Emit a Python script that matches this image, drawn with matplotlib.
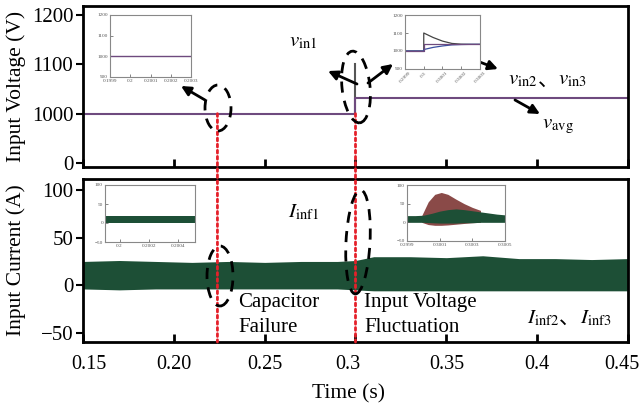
import numpy as np
import matplotlib.pyplot as plt
from matplotlib.patches import Ellipse, ConnectionPatch
from matplotlib.transforms import IdentityTransform, ScaledTranslation

plt.rcParams['font.family'] = ['Liberation Serif', 'Noto Sans CJK SC']
plt.rcParams['mathtext.fontset'] = 'stix'

# main voltage traces
t_volt = [0.15, 0.30, 0.30, 0.45]
v_avg = [1000, 1000, 1032, 1032]
t_spike = [0.30, 0.30]
v_spike = [1000, 1100]

# main current band (upper / lower envelope)
t_cur = [0.15, 0.17, 0.19, 0.21, 0.23, 0.25, 0.27, 0.29, 0.30,
         0.31, 0.33, 0.35, 0.37, 0.39, 0.41, 0.43, 0.45]
i_upper = [25, 26, 25, 24, 25, 24, 25, 25, 26, 30, 30, 29, 31, 28, 28, 27, 28]
i_lower = [-4, -5, -4, -4, -4, -4, -4, -4, -5, -6, -6, -6, -6, -6, -6, -6, -6]

t_fail = 0.224
t_fluct = 0.30

xticks = [0.15, 0.20, 0.25, 0.30, 0.35, 0.40, 0.45]
xticklabels = ['0.15', '0.20', '0.25', '0.3', '0.35', '0.4', '0.45']
xlabel_shift = [6, 0, 0, -8, 0, 0, -6]   # px, labels in the original sit off their ticks
v_ticks = [0, 1000, 1100, 1200]
i_ticks = [-50, 0, 50, 100]

# inset: voltage around capacitor failure
t_zv1 = [0.1999, 0.2003]
v_zv1 = [1000, 1000]
zv1_ticks = [0.1999, 0.2, 0.2001, 0.2002, 0.2003]
zv1_labels = ['0.1999', '0.2', '0.2001', '0.2002', '0.2003']

# inset: voltage around fluctuation
t_zv2 = [0.2999, 0.3, 0.3, 0.30005, 0.3001, 0.30015, 0.3002, 0.30025, 0.3003]
vin1_z = [1000, 1000, 1100, 1075, 1055, 1042, 1038, 1037, 1037]
vin23_z = [1000, 1000, 1008, 1020, 1028, 1034, 1036, 1037, 1037]
vavg_z = [1000, 1000, 1040, 1040, 1040, 1040, 1040, 1040, 1040]
zv2_ticks = [0.2999, 0.3, 0.3001, 0.3002, 0.3003]
zv2_labels = ['0.2999', '0.3', '0.3001', '0.3002', '0.3003']

# inset: current around capacitor failure
t_zi1 = [0.1999, 0.20052]
zi1_upper = [19, 19]
zi1_lower = [-1, -1]
zi1_ticks = [0.2, 0.2002, 0.2004]
zi1_labels = ['0.2', '0.2002', '0.2004']

# inset: current around fluctuation
t_zi2 = [0.2999, 0.29995, 0.3, 0.30005, 0.3001, 0.30015, 0.3002,
         0.30025, 0.3003, 0.30035, 0.3004, 0.30045, 0.3005]
zi2_upper = [18, 18, 19, 24, 30, 34, 36, 34, 31, 28, 25, 22, 20]
zi2_lower = [0, 0, 0, -1, -2, -2, -2, -1, -1, 0, 0, 0, 0]
t_zi2r = [0.29999, 0.30003, 0.30007, 0.30011, 0.30015, 0.3002, 0.30025, 0.3003, 0.30035]
zi2r_upper = [18, 55, 75, 80, 75, 62, 50, 40, 32]
zi2r_lower = [0, -6, -8, -8, -7, -5, -3, -1, 0]
zi2_ticks = [0.2999, 0.3001, 0.3003, 0.3005]
zi2_labels = ['0.2999', '0.3001', '0.3003', '0.3005']

purple = '#6e4a7e'
green = '#1d4f36'
brown = '#8a4a48'
red = '#e5202a'

W, H = 644, 411
fig = plt.figure(figsize=(6.44, 4.11), dpi=100)


def box(l, t, r, b):
    return [l / W, 1 - b / H, (r - l) / W, (b - t) / H]


def fwd(v):
    v = np.asarray(v, dtype=float)
    return np.where(v < 1000, v / 1000.0, 1 + (v - 1000) / 100.0)


def inv(u):
    u = np.asarray(u, dtype=float)
    return np.where(u < 1, u * 1000.0, 1000 + (u - 1) * 100.0)


ax1 = fig.add_axes(box(83, 6, 628, 167))
ax2 = fig.add_axes(box(83, 179, 628, 342))

ax1.plot(t_spike, v_spike, color='#555555', lw=1.5)
ax1.plot(t_volt, v_avg, color=purple, lw=1.5)
ax1.set_yscale('function', functions=(fwd, inv))
ax1.set_ylim(-80, 1218)
ax1.set_yticks(v_ticks)
ax1.set_yticklabels([str(v) for v in v_ticks])

ax2.fill_between(t_cur, i_lower, i_upper, color=green, lw=0)
ax2.set_ylim(-60, 112)
ax2.set_yticks(i_ticks)

for ax in (ax1, ax2):
    ax.set_xlim(0.15, 0.45)
    ax.set_xticks(xticks)
    ax.set_xticklabels(xticklabels)
    ax.yaxis.set_minor_locator(plt.NullLocator())
    ax.tick_params(axis='x', direction='in', length=6, width=2, labelsize=14.5, pad=9)
    ax.tick_params(axis='y', direction='out', length=5, width=1.5, labelsize=15, pad=2)
    for s in ax.spines.values():
        s.set_linewidth(2)
ax1.tick_params(axis='x', labelbottom=False)
for lab, dx in zip(ax2.get_xticklabels(), xlabel_shift):
    lab.set_transform(lab.get_transform() + ScaledTranslation(dx / 100, 0, fig.dpi_scale_trans))

# red event lines across both panels
for t in (t_fail, t_fluct):
    con = ConnectionPatch(xyA=(t, 1000), coordsA='data', axesA=ax1,
                          xyB=(t, -60), coordsB='data', axesB=ax2,
                          color=red, lw=2, linestyle=(0, (1, 1.2)))
    fig.add_artist(con)


def style_inset(ax, ticks, labels, rot=0):
    ax.set_xticks(ticks)
    ax.set_xticklabels(labels, rotation=rot)
    ax.tick_params(direction='in', length=2, width=0.5, labelsize=3.8,
                   colors='#555555', pad=1.5)
    for s in ax.spines.values():
        s.set_color('#888888')
        s.set_linewidth(0.8)


in1 = fig.add_axes(box(110, 15, 191, 77))
in1.plot(t_zv1, v_zv1, color=purple, lw=1)
in1.set_xlim(0.1999, 0.2003)
in1.set_ylim(900, 1200)
in1.set_yticks([900, 1000, 1100, 1200])
style_inset(in1, zv1_ticks, zv1_labels)

in2 = fig.add_axes(box(405, 15, 480, 69))
in2.plot(t_zv2, vin1_z, color='#444444', lw=0.9)
in2.plot(t_zv2, vin23_z, color='#3a4fa0', lw=0.9)
in2.plot(t_zv2, vavg_z, color=purple, lw=0.9)
in2.set_xlim(0.2999, 0.3003)
in2.set_ylim(900, 1200)
in2.set_yticks([900, 1000, 1100, 1200])
style_inset(in2, zv2_ticks, zv2_labels, rot=45)

in3 = fig.add_axes(box(105, 185, 195, 242))
in3.fill_between(t_zi1, zi1_lower, zi1_upper, color=green, lw=0)
in3.set_xlim(0.1999, 0.20052)
in3.set_ylim(-50, 100)
in3.set_yticks([-50, 0, 50, 100])
style_inset(in3, zi1_ticks, zi1_labels)

in4 = fig.add_axes(box(407, 185, 505, 241))
in4.fill_between(t_zi2r, zi2r_lower, zi2r_upper, color=brown, lw=0)
in4.fill_between(t_zi2, zi2_lower, zi2_upper, color=green, lw=0)
in4.set_xlim(0.2999, 0.3005)
in4.set_ylim(-50, 100)
in4.set_yticks([-50, 0, 50, 100])
style_inset(in4, zi2_ticks, zi2_labels)


def px(x, y):
    return (x, H - y)


# dashed ellipses
for cx, cy, w, h, ang in [(218, 108, 26, 46, 0), (356, 87, 28, 72, 6),
                          (220, 276, 26, 60, 0), (358, 242, 24, 104, -3)]:
    fig.add_artist(Ellipse(px(cx, cy), w, h, angle=ang, fill=False, lw=2,
                           ls=(0, (4, 3)), ec='black', transform=IdentityTransform()))

# arrows
arrows = [((205, 100), (181, 86)), ((357, 84), (328, 71)), ((368, 83), (393, 64)),
          ((430, 43), (498, 69)), ((515, 100), (540, 114)),
          ((213, 245), (196, 228)), ((356, 220), (332, 207)),
          ((368, 247), (393, 235)), ((505, 290), (529, 309))]
for (x0, y0), (x1, y1) in arrows:
    ax1.annotate('', xy=px(x1, y1), xycoords='figure pixels',
                 xytext=px(x0, y0), textcoords='figure pixels',
                 arrowprops=dict(arrowstyle='-|>', lw=2, color='black',
                                 mutation_scale=14, shrinkA=0, shrinkB=0))

fs = 15
renderer = fig.canvas.get_renderer()


def chain(x, y, parts):
    # lay out pieces of text one after another (mathtext has no font fallback)
    for s, fam in parts:
        kw = dict(fontsize=fs, va='center')
        if fam:
            kw['family'] = fam
        t = fig.text(x / W, 1 - y / H, s, **kw)
        bb = t.get_window_extent(renderer)
        x += bb.width


fig.text(289 / W, 1 - 42 / H, r'$v_{\mathrm{in1}}$', fontsize=fs, va='center')
chain(508, 80, [(r'$v_{\mathrm{in2}}$', None), ('、', 'Noto Sans CJK SC'),
                (r'$v_{\mathrm{in3}}$', None)])
fig.text(542 / W, 1 - 127 / H, r'$v_{\mathrm{avg}}$', fontsize=fs, va='center')
fig.text(288 / W, 1 - 212 / H, r'$I_{\mathrm{inf1}}$', fontsize=fs, va='center')
chain(527, 318, [(r'$I_{\mathrm{inf2}}$', None), ('、', 'Noto Sans CJK SC'),
                 (r'$I_{\mathrm{inf3}}$', None)])
fig.text(238 / W, 1 - 315 / H, 'Capacitor\nFailure', fontsize=fs, va='center',
         linespacing=1.45)
fig.text(364 / W, 1 - 315 / H, 'Input Voltage\nFluctuation', fontsize=fs, va='center',
         linespacing=1.45)

fig.text(16 / W, 1 - 86 / H, 'Input Voltage (V)', fontsize=15.5, rotation=90,
         ha='center', va='center')
fig.text(16 / W, 1 - 260 / H, 'Input Current (A)', fontsize=15.5, rotation=90,
         ha='center', va='center')
fig.text(348 / W, 1 - 394 / H, 'Time (s)', fontsize=15.5, ha='center', va='center')

fig.savefig('out.png', dpi=100)
